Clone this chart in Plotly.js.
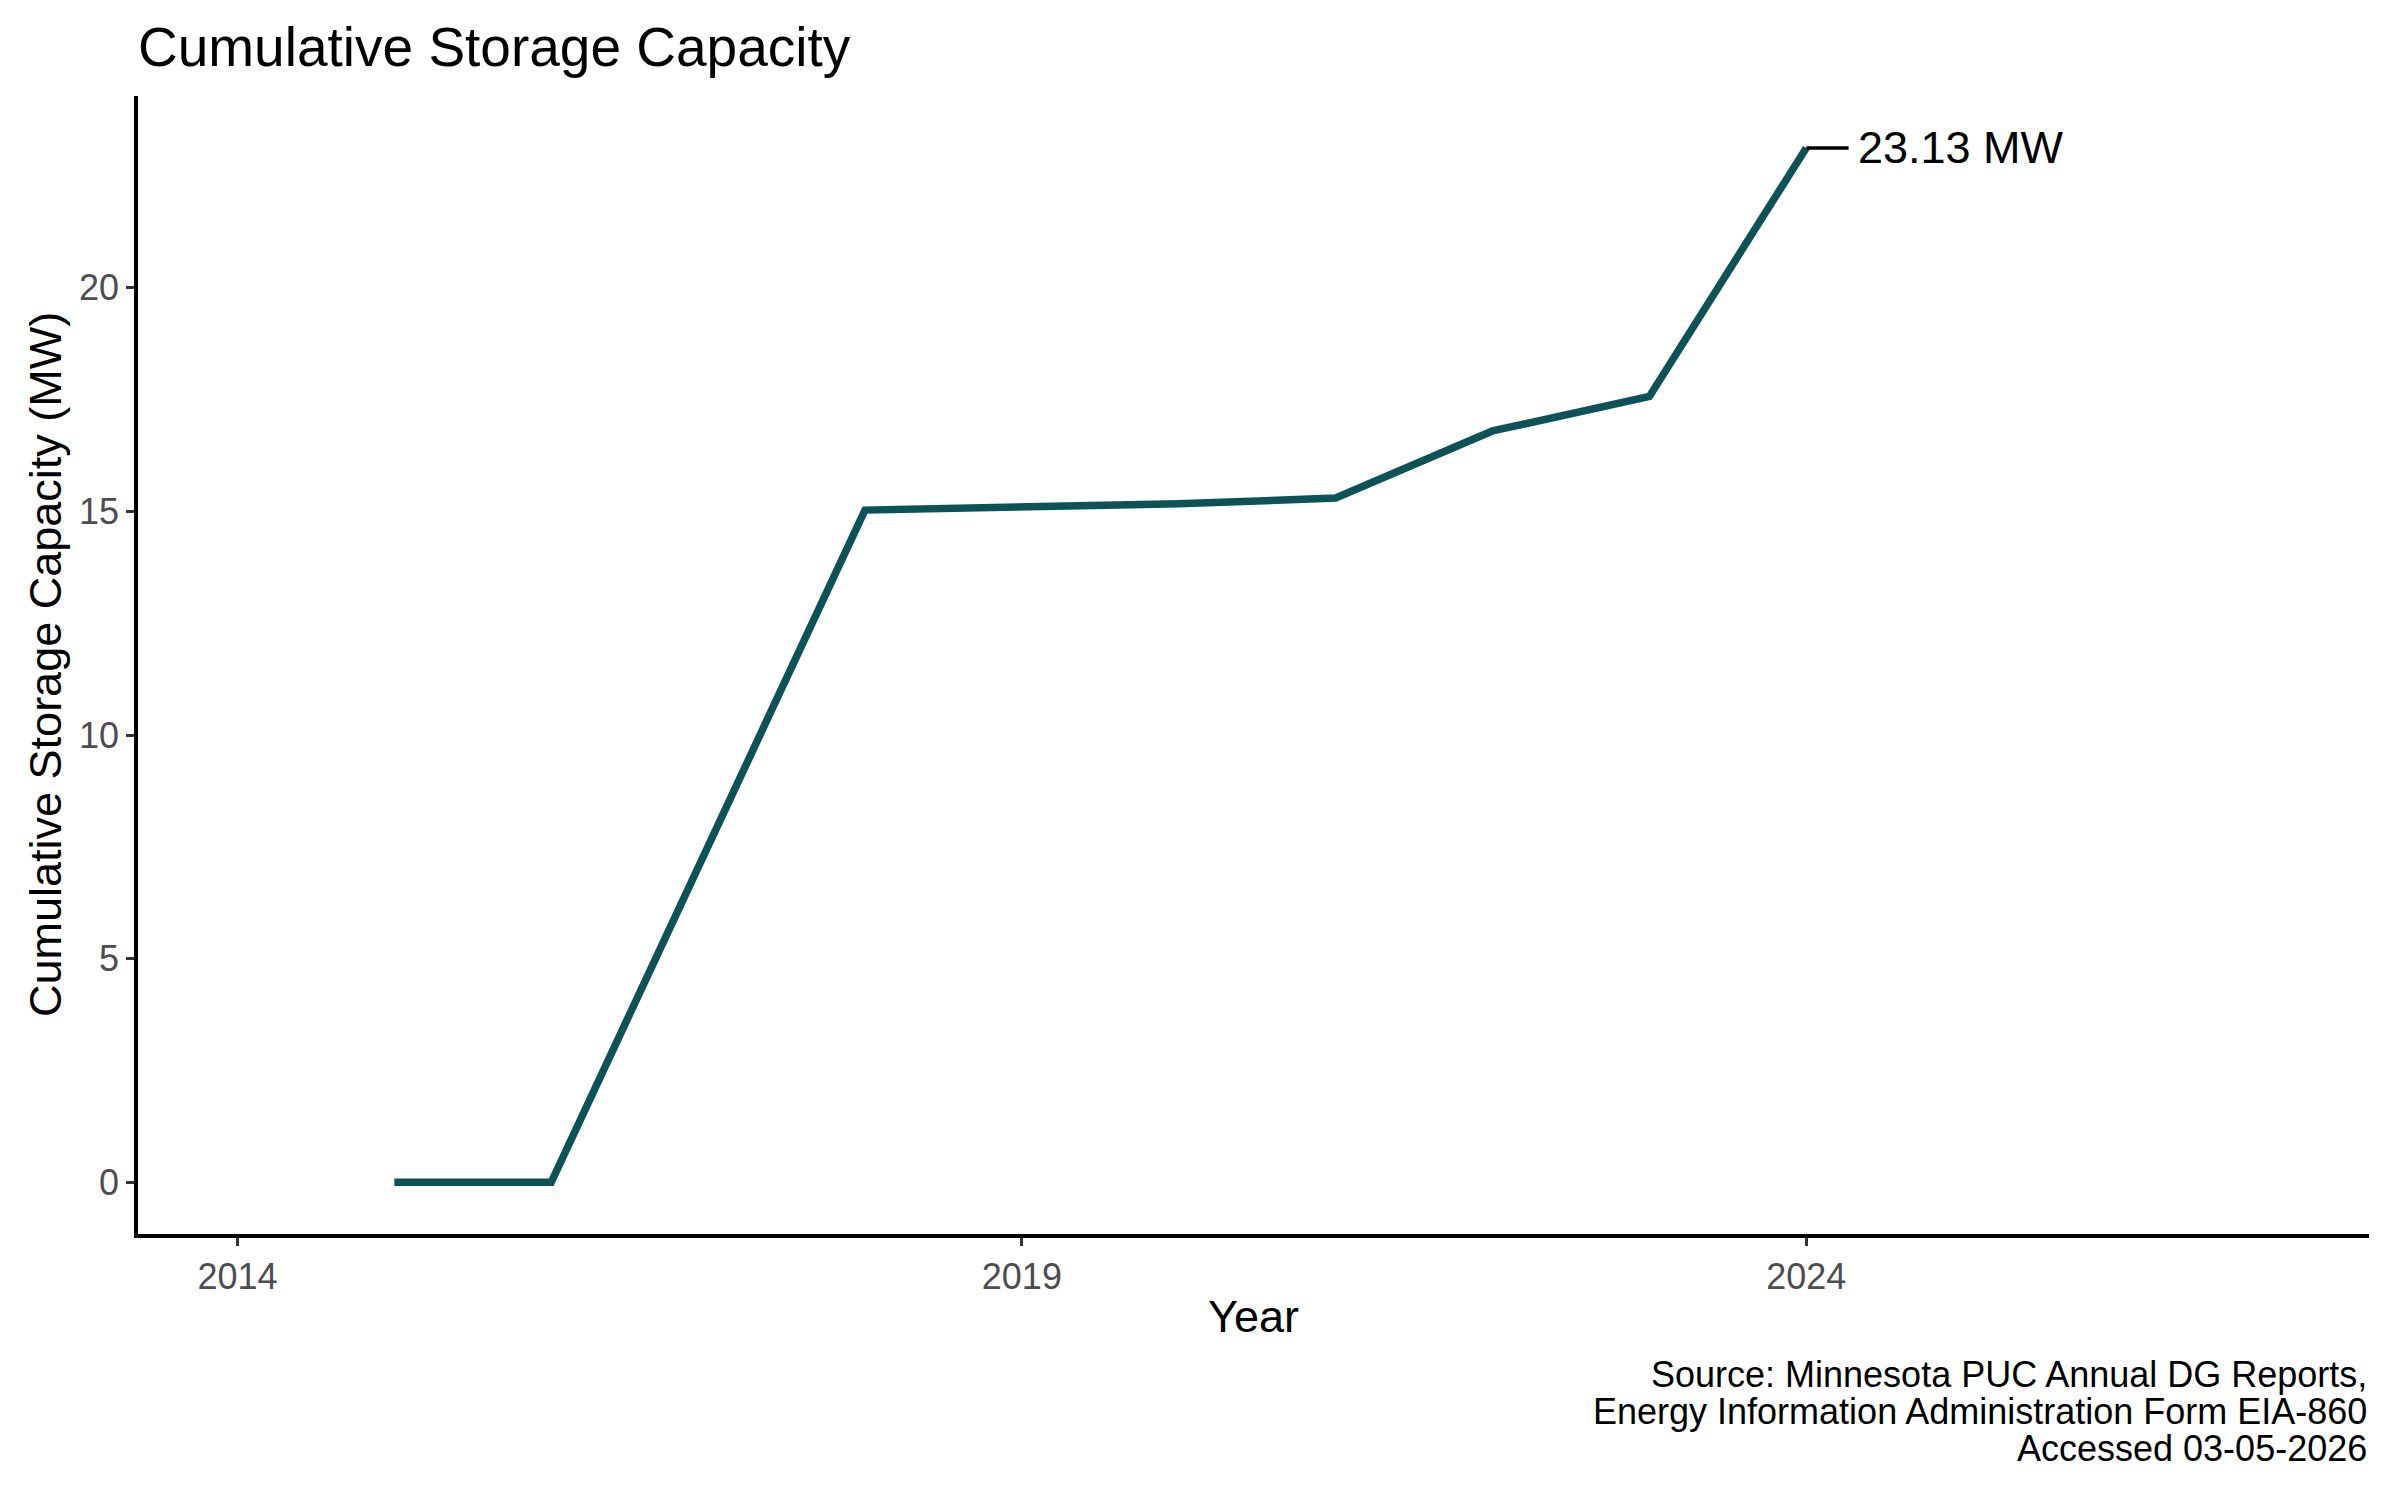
<!DOCTYPE html>
<html>
<head>
<meta charset="utf-8">
<script src="https://cdn.plot.ly/plotly-3.0.1.min.js"></script>
<style>
  html, body { margin: 0; padding: 0; background: #ffffff; }
  #chart { width: 2400px; height: 1500px; }
</style>
</head>
<body>
<div id="chart"></div>
<script>
// Cumulative storage capacity by year (MW)
const years = [2015, 2016, 2018, 2019, 2020, 2021, 2022, 2023, 2024];
const capacityMW = [0, 0, 15.03, 15.08, 15.17, 15.3, 16.8, 17.57, 23.13];
const xTicks = [2014, 2019, 2024];
const yTicks = [0, 5, 10, 15, 20];
const captionLines = [
    'Source: Minnesota PUC Annual DG Reports,',
    'Energy Information Administration Form EIA-860',
    'Accessed 03-05-2026'
];

const FONT = 'Liberation Sans, Arial, sans-serif';
const W = 2400, H = 1500;
const margin = { l: 138, r: 31, t: 96, b: 266 };
const plotH = H - margin.t - margin.b;

// pixel offset below the panel -> paper y
function belowPanel(px) {
    return -px / plotH;
}

const lastYear = years[years.length - 1];
const lastValue = capacityMW[capacityMW.length - 1];

const annotations = [
    {
        text: lastValue.toFixed(2) + ' MW',
        x: lastYear + 0.32, y: lastValue,
        xref: 'x', yref: 'y',
        xanchor: 'left', yanchor: 'middle',
        showarrow: false,
        font: { family: FONT, size: 45, color: '#000000' }
    },
    {
        text: 'Cumulative Storage Capacity (MW)',
        textangle: -90,
        x: (45 - margin.l) / (W - margin.l - margin.r), y: 0.5,
        xref: 'paper', yref: 'paper',
        xanchor: 'center', yanchor: 'middle',
        showarrow: false,
        font: { family: FONT, size: 45, color: '#000000' }
    },
    {
        text: 'Year',
        x: 0.5, y: belowPanel(1316 - 1234),
        xref: 'paper', yref: 'paper',
        xanchor: 'center', yanchor: 'middle',
        showarrow: false,
        font: { family: FONT, size: 45, color: '#000000' }
    }
];

// caption, right aligned under the panel
const captionY = [1374, 1411, 1448];
captionLines.forEach((line, i) => {
    annotations.push({
        text: line,
        x: 1, y: belowPanel(captionY[i] - 1234),
        xref: 'paper', yref: 'paper',
        xanchor: 'right', yanchor: 'middle',
        showarrow: false,
        font: { family: FONT, size: 36, color: '#000000' }
    });
});

const layout = {
    width: W,
    height: H,
    margin: margin,
    showlegend: false,
    plot_bgcolor: '#ffffff',
    paper_bgcolor: '#ffffff',
    title: {
        text: 'Cumulative Storage Capacity',
        x: 0, xref: 'paper', xanchor: 'left',
        y: 1 - 47 / H, yref: 'container', yanchor: 'middle',
        font: { family: FONT, size: 55, color: '#000000' }
    },
    xaxis: {
        range: [2013.366, 2027.587],
        tickvals: xTicks,
        ticktext: xTicks.map(String),
        showgrid: false,
        zeroline: false,
        showline: true,
        linecolor: '#000000',
        linewidth: 3.5,
        ticks: 'outside',
        ticklen: 8,
        tickwidth: 2.5,
        tickcolor: '#333333',
        tickfont: { family: FONT, size: 36, color: '#4d4d4d' }
    },
    yaxis: {
        range: [-1.157, 24.29],
        tickvals: yTicks,
        ticktext: yTicks.map(String),
        showgrid: false,
        zeroline: false,
        showline: true,
        linecolor: '#000000',
        linewidth: 3.5,
        ticks: 'outside',
        ticklen: 8,
        tickwidth: 2.5,
        tickcolor: '#333333',
        tickfont: { family: FONT, size: 36, color: '#4d4d4d' }
    },
    shapes: [{
        // short leader from the last point to its label
        type: 'line',
        xref: 'x', yref: 'y',
        x0: lastYear, x1: lastYear + 0.27,
        y0: lastValue, y1: lastValue,
        line: { color: '#000000', width: 3.5 }
    }],
    annotations: annotations
};

Plotly.newPlot('chart', [{
    x: years,
    y: capacityMW,
    type: 'scatter',
    mode: 'lines',
    line: { color: '#0d5257', width: 7.5 },
    hoverinfo: 'x+y'
}], layout, {
    responsive: false,
    displayModeBar: false
});
</script>
</body>
</html>
